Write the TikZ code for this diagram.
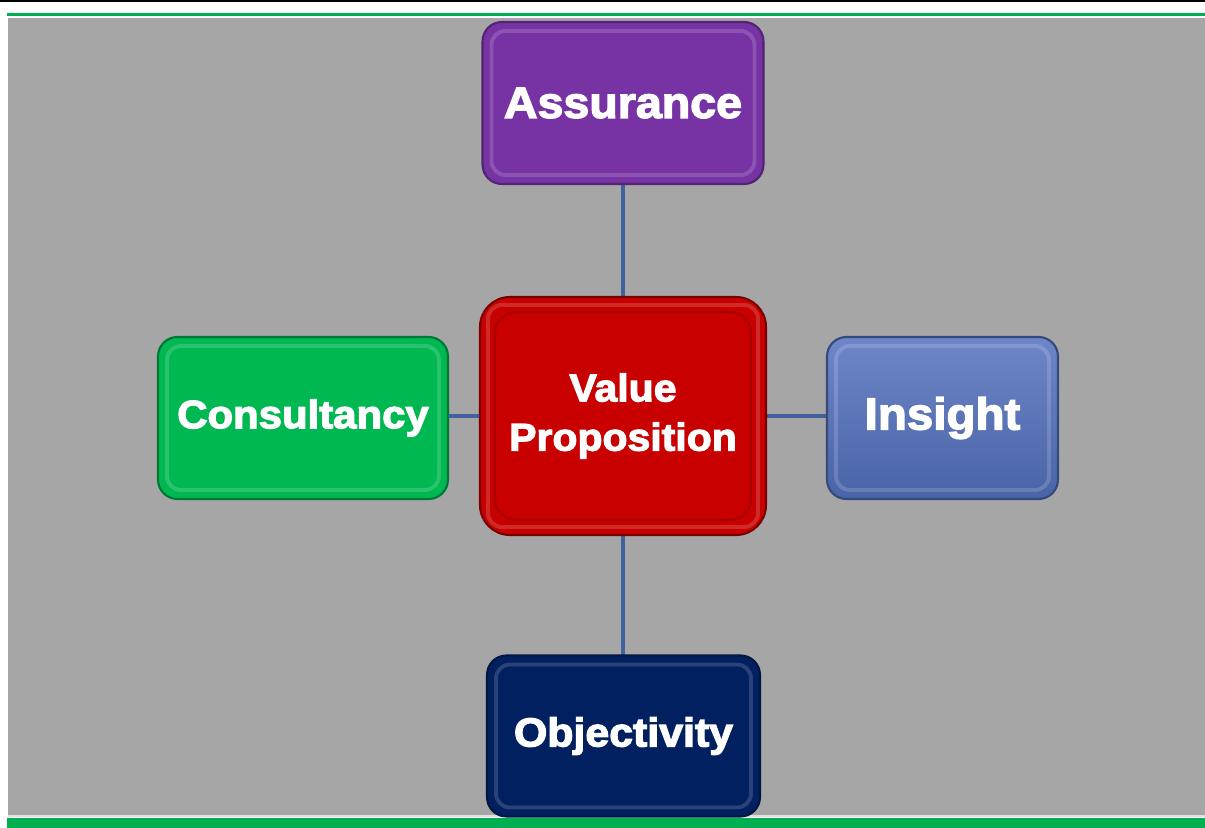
\documentclass[tikz,border=0pt]{standalone}
\usepackage{fontspec}
\setmainfont{Liberation Sans}[BoldFeatures={FakeBold=3, FakeStretch=1.06}]
\usepackage{tikz}
\definecolor{pagegray}{HTML}{A6A6A6}
\definecolor{rulegreen}{HTML}{00B050}
\definecolor{linkblue}{HTML}{41609E}
\definecolor{vpurple}{HTML}{7733A4}
\definecolor{vgreen}{HTML}{00B852}
\definecolor{vred}{HTML}{C80000}
\definecolor{vblue}{HTML}{5371BE}
\definecolor{vnavy}{HTML}{00205F}

\begin{document}
\begin{tikzpicture}[
  x=0.02cm, y=-0.02cm,
  box/.style={rounded corners=11pt, line width=1.2pt, align=center, text=white,
              inner sep=4pt, minimum height=3.24cm},
  purplebox/.style={box, fill=vpurple, draw=vpurple!70!black, minimum width=5.62cm},
  greenbox/.style={box, fill=vgreen, draw=vgreen!65!black, minimum width=5.8cm},
  redbox/.style={box, rounded corners=17pt, fill=vred, draw=vred!60!black,
                 minimum width=5.72cm, minimum height=4.76cm},
  bluebox/.style={box, top color=vblue!85!white, bottom color=vblue!88!black,
                  draw=vblue!65!black, minimum width=4.62cm},
  navybox/.style={box, fill=vnavy, draw=vnavy!70!black, minimum width=5.46cm, minimum height=3.22cm},
  hilite/.style={rounded corners=8pt, line width=2.2pt, draw=white, draw opacity=0.16},
  link/.style={line width=2.1pt, draw=linkblue},
  big/.style={font=\bfseries\fontsize{#1}{#1}\selectfont}
]
\useasboundingbox (0,0) rectangle (1205,828);

% page frame
\fill[black] (0,0) rectangle (1205,2);
\fill[rulegreen] (7,13) rectangle (1205,16);
\fill[pagegray] (8,18) rectangle (1205,815);
\fill[black!12] (8,815) rectangle (1205,816.5);
\fill[rulegreen] (7,818) rectangle (1205,828);

% connectors first, boxes on top
\coordinate (c) at (623,416);
\draw[link] (623,103) -- (c) -- (623,735);
\draw[link] (303,416) -- (942,416);

\node[purplebox, big=25] (assur) at (623,103) {Assurance};
\node[greenbox, big=22.5] (consult) at (303,418) {Consultancy};
\node[redbox, big=22] (value) at (623,416) {Value\\[6pt]Proposition};
\node[bluebox, big=25.5] (insight) at (942.5,418) {Insight};
\node[navybox, big=23] (object) at (623.5,736) {Objectivity};

% bevel highlight inside each box
\foreach \n in {assur, consult, insight, object}
  \draw[hilite] ([shift={(10,10)}]\n.north west) rectangle ([shift={(-10,-10)}]\n.south east);
\draw[hilite, rounded corners=12pt, draw=vred!85!black, draw opacity=1, line width=1.2pt]
  ([shift={(16,16)}]value.north west) rectangle ([shift={(-16,-16)}]value.south east);
\draw[hilite] ([shift={(9,9)}]value.north west) rectangle ([shift={(-9,-9)}]value.south east);
\end{tikzpicture}
\end{document}
